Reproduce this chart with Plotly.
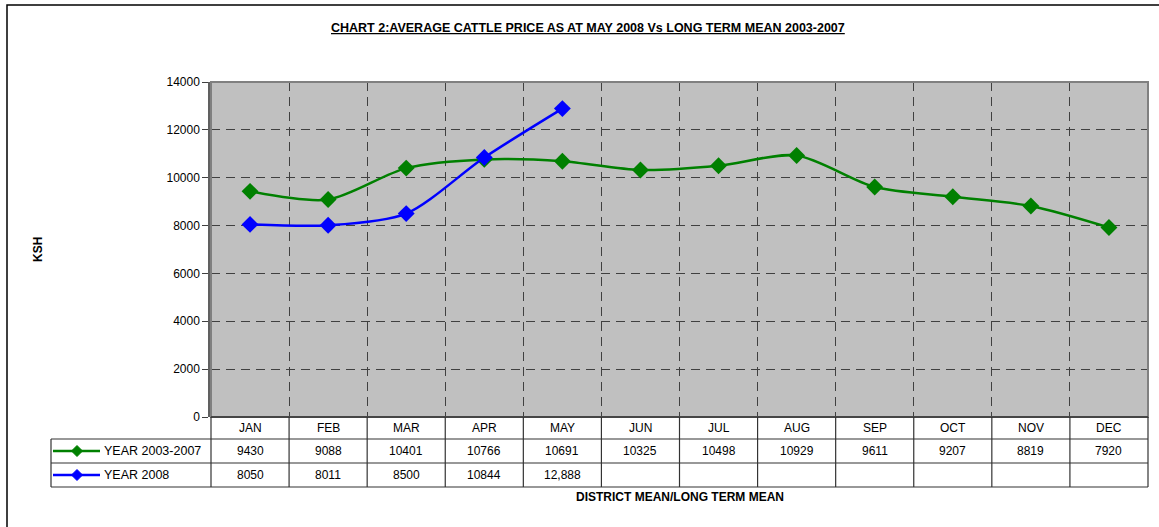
import plotly.graph_objects as go

months = ["JAN", "FEB", "MAR", "APR", "MAY", "JUN", "JUL", "AUG", "SEP", "OCT", "NOV", "DEC"]
mean_2003_2007 = [9430, 9088, 10401, 10766, 10691, 10325, 10498, 10929, 9611, 9207, 8819, 7920]
year_2008 = [8050, 8011, 8500, 10844, 12888]
year_2008_labels = ["8050", "8011", "8500", "10844", "12,888"]
series_names = ["YEAR 2003-2007", "YEAR 2008"]
series_colors = ["#008000", "#0000FF"]

W, H = 1159, 527
PX0, PX1, PY0, PY1 = 211, 1148, 82, 417  # plot area in pixels
PW, PH = PX1 - PX0, PY1 - PY0
FONT = "Liberation Sans, Arial, sans-serif"
n = len(months)


def px(x):
    return (x - PX0) / PW


def py(y):
    return (PY1 - y) / PH


def cat_paper(i):
    return (i + 0.5) / n


def ann(x, y, text, size=12, **kw):
    d = dict(x=x, y=y, xref="paper", yref="paper", text=text, showarrow=False,
             xanchor="center", yanchor="middle", font=dict(family=FONT, size=size, color="black"))
    d.update(kw)
    return d


fig = go.Figure()
xs = list(range(n))
for vals, name, col in zip([mean_2003_2007, year_2008], series_names, series_colors):
    fig.add_trace(go.Scatter(
        x=xs[:len(vals)], y=vals, name=name, mode="lines+markers",
        line=dict(color=col, width=2.5, shape="spline", smoothing=0.8),
        marker=dict(symbol="diamond", size=13, color=col),
        cliponaxis=False, showlegend=False))

shapes = []
annotations = []
tc = "#333333"
# outer chart frame
shapes.append(dict(type="rect", xref="paper", yref="paper", x0=px(7), x1=px(1175), y0=py(5), y1=py(545),
                   line=dict(color="black", width=1.5), layer="below"))
# plot border
shapes.append(dict(type="rect", xref="paper", yref="paper", x0=0, x1=1, y0=0, y1=1,
                   line=dict(color="#808080", width=2)))
# table rows
row_y = [417, 439, 463, 487]
shapes.append(dict(type="line", xref="paper", yref="paper", x0=0, x1=1, y0=py(417), y1=py(417),
                   line=dict(color=tc, width=1.5)))
for yy in row_y[1:]:
    shapes.append(dict(type="line", xref="paper", yref="paper", x0=px(51), x1=1, y0=py(yy), y1=py(yy),
                       line=dict(color=tc, width=1.2)))
# table columns
for i in range(n + 1):
    xx = i / n
    shapes.append(dict(type="line", xref="paper", yref="paper", x0=xx, x1=xx, y0=py(417), y1=py(487),
                       line=dict(color=tc, width=1.2)))
shapes.append(dict(type="line", xref="paper", yref="paper", x0=px(51), x1=px(51), y0=py(439), y1=py(487),
                   line=dict(color=tc, width=1.2)))

# header labels
for i, m in enumerate(months):
    annotations.append(ann(cat_paper(i), py(428), m))
# values
for rowc, labels in zip([451, 475], [[str(v) for v in mean_2003_2007], year_2008_labels]):
    for i, t in enumerate(labels):
        annotations.append(ann(cat_paper(i), py(rowc), t))
# legend keys
for rowc, name, col in zip([451, 475], series_names, series_colors):
    shapes.append(dict(type="line", xref="paper", yref="paper", x0=px(53), x1=px(100), y0=py(rowc), y1=py(rowc),
                       line=dict(color=col, width=2.5)))
    cx, cy, r = 77, rowc, 5.5
    path = "M {} {} L {} {} L {} {} L {} {} Z".format(px(cx - r), py(cy), px(cx), py(cy - r),
                                                    px(cx + r), py(cy), px(cx), py(cy + r))
    shapes.append(dict(type="path", xref="paper", yref="paper", path=path, fillcolor=col,
                       line=dict(color=col, width=1)))
    annotations.append(ann(px(102), py(rowc), name, size=12.5, xanchor="left"))

# titles
annotations.append(ann(px(588), py(28),
                       "<u><b>CHART 2:AVERAGE CATTLE PRICE AS AT MAY 2008 Vs LONG TERM MEAN 2003-2007</b></u>",
                       size=12.5))
annotations.append(ann(0.5, py(497), "<b>DISTRICT MEAN/LONG TERM MEAN</b>"))
annotations.append(ann(px(38), py(250), "<b>KSH</b>", textangle=-90))

fig.update_layout(
    width=W, height=H,
    margin=dict(l=PX0, r=W - PX1, t=PY0, b=H - PY1),
    paper_bgcolor="white", plot_bgcolor="#C0C0C0",
    shapes=shapes, annotations=annotations,
    xaxis=dict(range=[-0.5, n - 0.5], tickvals=[i + 0.5 for i in range(n - 1)], showticklabels=False,
               ticks="inside", ticklen=5, tickcolor="#404040", showgrid=True, gridcolor="#404040",
               griddash="9px,6px", gridwidth=1, zeroline=False, showline=False, fixedrange=True),
    yaxis=dict(range=[0, 14000], dtick=2000, tick0=0, tickformat="d", ticks="outside", ticklen=6,
               tickcolor="#404040", showline=True, linecolor="#606060", linewidth=2.5, showgrid=True,
               gridcolor="#404040", griddash="9px,6px", gridwidth=1, zeroline=False,
               tickfont=dict(family=FONT, size=12, color="black"), fixedrange=True),
)

fig.write_html("out.html", config={"displayModeBar": False},
               post_script="document.body.style.margin='0px';document.body.style.padding='0px';")
